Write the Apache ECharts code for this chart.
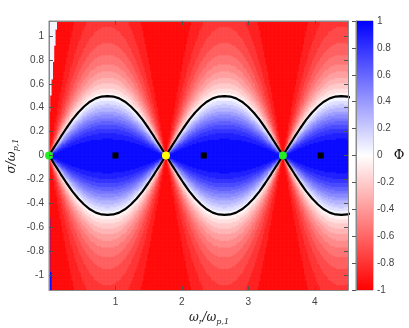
<!DOCTYPE html>
<html>
<head>
<meta charset="utf-8">
<script src="https://cdn.jsdelivr.net/npm/echarts@6/dist/echarts.min.js"></script>
<style>
  html, body { margin: 0; padding: 0; background: #fff; }
  #chart { width: 409px; height: 328px; }
</style>
</head>
<body>
<div id="chart"></div>
<script>
// axis ranges and ticks
const xRange = [0, 4.5]
const yRange = [-1.125, 1.125]
const xTicks = [1, 2, 3, 4]
const yTicks = [-1, -0.8, -0.6, -0.4, -0.2, 0, 0.2, 0.4, 0.6, 0.8, 1]

// separatrix: nodes and half-lobe profile
const nodeX = [0, 1.76, 3.52]
const lobePeriod = 1.76
const lobeFrac = [0, 0.05, 0.1, 0.15, 0.2, 0.25, 0.3, 0.35, 0.4, 0.45, 0.5]
const lobeSigma = [0, 0.078, 0.155, 0.23, 0.3, 0.36, 0.41, 0.45, 0.478, 0.493, 0.497]

// markers on sigma = 0
const greenPts = [[0, 0], [3.52, 0]]
const yellowPts = [[1.76, 0]]
const squarePts = [[1.0, 0], [2.33, 0], [4.09, 0]]

// contour band width of Phi, and how fast Phi falls off away from sigma = 0
const bandStep = 1 / 12
const falloff = 2.5

function lobeHeight (x) {
  let f = (x % lobePeriod) / lobePeriod
  if (f > 0.5) f = 1 - f
  for (let i = 1; i < lobeFrac.length; i++) {
    if (f <= lobeFrac[i]) {
      const t = (f - lobeFrac[i - 1]) / (lobeFrac[i] - lobeFrac[i - 1])
      return lobeSigma[i - 1] + t * (lobeSigma[i] - lobeSigma[i - 1])
    }
  }
  return lobeSigma[lobeSigma.length - 1]
}

function phiAt (x, s) {
  // small plotting artefacts along the left edge
  if (s > 0.3 && x < 0.145 * (s - 0.3)) return 0
  if (s < -0.3 && x < 0.045 * (-s - 0.3)) return 1
  const a = Math.pow(lobeHeight(x), falloff)
  const b = Math.pow(Math.abs(s), falloff)
  if (a + b === 0) return 1
  return (a - b) / (a + b)
}

const nx = 225, ny = 200
const dx = (xRange[1] - xRange[0]) / nx
const dy = (yRange[1] - yRange[0]) / ny
const fieldData = []
for (let i = 0; i < nx; i++) {
  const x = xRange[0] + (i + 0.5) * dx
  for (let j = 0; j < ny; j++) {
    const s = yRange[0] + (j + 0.5) * dy
    let k = Math.floor(phiAt(x, s) / bandStep)
    k = Math.max(-12, Math.min(11, k))
    fieldData.push([x, s, (k + 0.5) * bandStep])
  }
}

const upper = [], lower = []
const fullFrac = lobeFrac.concat(lobeFrac.slice(0, -1).reverse().map(f => 1 - f))
const fullSig = lobeSigma.concat(lobeSigma.slice(0, -1).reverse())
nodeX.forEach(n => {
  fullFrac.forEach((f, i) => {
    upper.push([n + f * lobePeriod, fullSig[i]])
    lower.push([n + f * lobePeriod, -fullSig[i]])
  })
})

const axisGrey = '#8a8a8a'
const labelStyle = { color: '#444', fontSize: 10, fontFamily: 'Liberation Sans' }

const chart = echarts.init(document.getElementById('chart'), null, { renderer: 'canvas' })
chart.setOption({
  animation: false,
  backgroundColor: '#fff',
  grid: [
    { left: 49, top: 21, width: 299, height: 269, show: true, borderColor: axisGrey, borderWidth: 1 },
    { left: 356, top: 21, width: 17, height: 269, show: true, borderColor: axisGrey, borderWidth: 1 }
  ],
  xAxis: [
    { type: 'value', gridIndex: 0, min: xRange[0], max: xRange[1], position: 'bottom',
      axisLine: { show: true, onZero: false, lineStyle: { color: axisGrey } },
      axisTick: { show: true, inside: true, length: 4, customValues: xTicks, lineStyle: { color: '#555' } },
      axisLabel: Object.assign({ margin: 7, customValues: xTicks }, labelStyle),
      splitLine: { show: false }, z: 10 },
    { type: 'value', gridIndex: 0, min: xRange[0], max: xRange[1], position: 'top',
      axisLine: { show: true, onZero: false, lineStyle: { color: axisGrey } },
      axisTick: { show: true, inside: true, length: 4, customValues: xTicks, lineStyle: { color: '#555' } },
      axisLabel: { show: false }, splitLine: { show: false }, z: 10 },
    { type: 'value', gridIndex: 1, min: 0, max: 1, show: false }
  ],
  yAxis: [
    { type: 'value', gridIndex: 0, min: yRange[0], max: yRange[1], position: 'left',
      axisLine: { show: true, onZero: false, lineStyle: { color: axisGrey } },
      axisTick: { show: true, inside: true, length: 4, customValues: yTicks, lineStyle: { color: '#555' } },
      axisLabel: Object.assign({ margin: 5, customValues: yTicks }, labelStyle),
      splitLine: { show: false }, z: 10 },
    { type: 'value', gridIndex: 0, min: yRange[0], max: yRange[1], position: 'right',
      axisLine: { show: true, onZero: false, lineStyle: { color: axisGrey } },
      axisTick: { show: true, inside: true, length: 4, customValues: yTicks, lineStyle: { color: '#555' } },
      axisLabel: { show: false }, splitLine: { show: false }, z: 10 },
    { type: 'value', gridIndex: 1, min: -1, max: 1, interval: 0.2, position: 'right',
      axisLine: { show: true, lineStyle: { color: axisGrey } },
      axisTick: { show: true, inside: true, length: 4, lineStyle: { color: '#555' } },
      axisLabel: Object.assign({ margin: 4 }, labelStyle),
      splitLine: { show: false }, z: 10 }
  ],
  visualMap: {
    show: false, type: 'continuous', min: -1, max: 1, dimension: 2, seriesIndex: 0,
    inRange: { color: ['#ff0000', '#ffffff', '#0000ff'] }
  },
  graphic: [
    { type: 'text', x: 12, y: 156, rotation: Math.PI / 2,
      style: { text: '{a|σ/ω}{b|p,1}', align: 'center', verticalAlign: 'middle',
        rich: { a: { fontFamily: 'DejaVu Serif', fontStyle: 'italic', fontSize: 12, fill: '#222' },
          b: { fontFamily: 'DejaVu Serif', fontStyle: 'italic', fontSize: 8, fill: '#222', padding: [7, 0, 0, 0] } } } },
    { type: 'text', x: 209, y: 318,
      style: { text: '{a|ω}{b|r}{a|/ω}{b|p,1}', align: 'center', verticalAlign: 'middle',
        rich: { a: { fontFamily: 'DejaVu Serif', fontStyle: 'italic', fontSize: 12, fill: '#222' },
          b: { fontFamily: 'DejaVu Serif', fontStyle: 'italic', fontSize: 8, fill: '#222', padding: [7, 0, 0, 0] } } } },
    { type: 'text', x: 399, y: 156,
      style: { text: 'Φ', align: 'center', verticalAlign: 'middle', fontFamily: 'DejaVu Serif', fontSize: 13, fill: '#111' } }
  ],
  series: [
    {
      type: 'custom', xAxisIndex: 0, yAxisIndex: 0, data: fieldData, silent: true, clip: true,
      progressive: 0, progressiveThreshold: 1e7, z: 1,
      renderItem: function (params, api) {
        const p = api.coord([api.value(0) - dx / 2, api.value(1) + dy / 2])
        const sz = api.size([dx, dy])
        return { type: 'rect', shape: { x: p[0], y: p[1], width: sz[0] + 0.6, height: sz[1] + 0.6 },
          style: { fill: api.visual('color') } }
      }
    },
    { type: 'line', xAxisIndex: 0, yAxisIndex: 0, data: upper, showSymbol: false, clip: true, z: 3,
      lineStyle: { color: '#000', width: 2.2 }, silent: true },
    { type: 'line', xAxisIndex: 0, yAxisIndex: 0, data: lower, showSymbol: false, clip: true, z: 3,
      lineStyle: { color: '#000', width: 2.2 }, silent: true },
    { type: 'scatter', xAxisIndex: 0, yAxisIndex: 0, data: squarePts, symbol: 'rect', symbolSize: 6, z: 5,
      itemStyle: { color: '#000', opacity: 1 }, clip: false },
    { type: 'scatter', xAxisIndex: 0, yAxisIndex: 0, data: greenPts, symbol: 'circle', symbolSize: 8, z: 5,
      itemStyle: { color: '#22ee22', opacity: 1 }, clip: false },
    { type: 'scatter', xAxisIndex: 0, yAxisIndex: 0, data: yellowPts, symbol: 'circle', symbolSize: 8, z: 5,
      itemStyle: { color: '#ffff00', opacity: 1 }, clip: false },
    {
      type: 'custom', xAxisIndex: 2, yAxisIndex: 2, data: [[0, -1, 1, 1]], silent: true,
      renderItem: function (params, api) {
        const p0 = api.coord([0, 1])
        const p1 = api.coord([1, -1])
        return { type: 'rect', shape: { x: p0[0], y: p0[1], width: p1[0] - p0[0], height: p1[1] - p0[1] },
          style: { fill: new echarts.graphic.LinearGradient(0, 0, 0, 1, [
            { offset: 0, color: '#0000ff' }, { offset: 0.5, color: '#ffffff' }, { offset: 1, color: '#ff0000' }]) } }
      }
    }
  ]
})
</script>
</body>
</html>
